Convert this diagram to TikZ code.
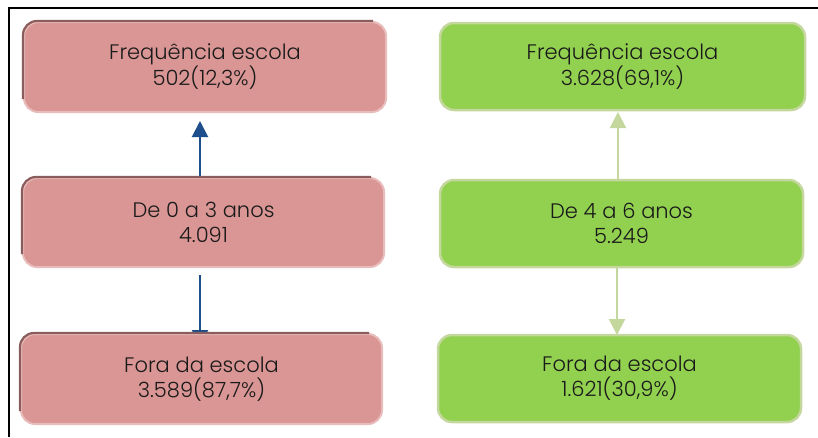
\documentclass[tikz,border=0pt]{standalone}
\usepackage{fontspec}
\setmainfont{Poppins}[UprightFont=* Light]
\usetikzlibrary{arrows.meta}
\definecolor{redfill}{HTML}{D99694}
\definecolor{reddark}{HTML}{8A5C5B}
\definecolor{redlight}{HTML}{E8BCBB}
\definecolor{greenfill}{HTML}{92D050}
\definecolor{greenedge}{HTML}{C4D89E}
\definecolor{bluearr}{HTML}{1F4E8C}
\definecolor{txt}{HTML}{1A1A1A}
\tikzset{
  box/.style={rounded corners=14pt, minimum height=89pt, align=center,
    text=txt, font=\fontsize{21}{25}\selectfont, inner sep=0pt},
  redbox/.style={box, fill=redfill, draw=redlight, line width=2pt},
  greenbox/.style={box, fill=greenfill, draw=greenedge, line width=2.5pt},
  darkedge/.style={draw=reddark, line width=2.2pt, rounded corners=14pt},
  bluearrow/.style={draw=bluearr, line width=2pt, -{Triangle[length=16pt,width=16pt]}},
  greenarrow/.style={draw=greenedge, line width=2pt, -{Triangle[length=16pt,width=16pt]}},
  frameline/.style={draw=black, line width=2.8pt}
}
\begin{document}
\begin{tikzpicture}[x=1pt,y=-1pt]
\useasboundingbox (0,0) rectangle (818,437);
\fill[white] (0,0) rectangle (818,437);
\coordinate (fTL) at (9,8);
\coordinate (fTR) at (818,8);
\coordinate (fBL) at (9,437);
\draw[frameline] (fTR) -- (fTL) -- (fBL);
% arrows first (drawn under boxes)
\coordinate (a1s) at (200,178);
\coordinate (a1e) at (200,121);
\coordinate (a2s) at (200,275);
\coordinate (a2e) at (200,346);
\draw[bluearrow] (a1s) -- (a1e);
\draw[bluearrow] (a2s) -- (a2e);
\coordinate (b1s) at (618,180);
\coordinate (b1e) at (618,112);
\coordinate (b2s) at (617,267);
\coordinate (b2e) at (617,335);
\draw[greenarrow] (b1s) -- (b1e);
\draw[greenarrow] (b2s) -- (b2e);
% left boxes
\node[redbox, minimum width=362pt, minimum height=90pt] (L1) at (205,67) {Frequência escola\\502(12,3\%)};
\node[redbox, minimum width=361pt] (L2) at (203.5,222.5) {De 0 a 3 anos\\4.091};
\node[redbox, minimum width=361pt, minimum height=90pt] (L3) at (201.5,379) {Fora da escola\\3.589(87,7\%)};
\foreach \n in {L1,L2,L3}{
  \draw[darkedge] ([yshift=14pt]\n.south west) |- ([xshift=-14pt]\n.north east);
}
% right boxes
\node[greenbox, minimum width=365pt, minimum height=87pt] (R1) at (622.5,66.5) {Frequência escola\\3.628(69,1\%)};
\node[greenbox, minimum width=363pt, minimum height=87pt] (R2) at (621.5,223.5) {De 4 a 6 anos\\5.249};
\node[greenbox, minimum width=363pt, minimum height=87pt] (R3) at (619.5,378.5) {Fora da escola\\1.621(30,9\%)};
\end{tikzpicture}
\end{document}
